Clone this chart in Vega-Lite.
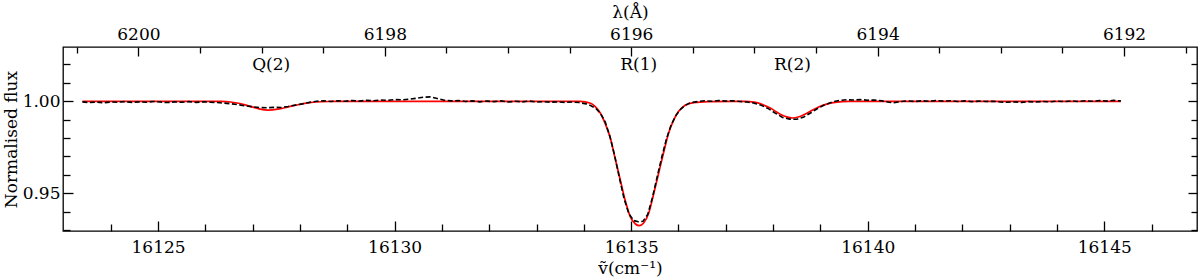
{
  "$schema": "https://vega.github.io/schema/vega-lite/v6.json",
  "width": 1134,
  "height": 184,
  "autosize": {"type": "none"},
  "padding": {"left": 63, "top": 47, "right": 3, "bottom": 49},
  "background": "white",
  "config": {
    "view": {"stroke": "black", "strokeWidth": 1.3},
    "axis": {
      "domain": false, "grid": false,
      "labelFont": "DejaVu Serif",
      "titleFont": "DejaVu Serif",
      "labelFontSize": 17, "titleFontSize": 17,
      "titleFontWeight": "normal",
      "labelColor": "black", "titleColor": "black",
      "tickColor": "black", "tickWidth": 1.3,
      "labelOverlap": false, "labelFlush": false
    }
  },
  "datasets": {
    "model": [
      {"nu": 16123.40, "f": 1.0000}, {"nu": 16125.90, "f": 1.0000},
      {"nu": 16126.33, "f": 0.9999}, {"nu": 16126.53, "f": 0.9996},
      {"nu": 16126.73, "f": 0.9988}, {"nu": 16126.93, "f": 0.9974},
      {"nu": 16127.13, "f": 0.9959}, {"nu": 16127.33, "f": 0.9952},
      {"nu": 16127.53, "f": 0.9957}, {"nu": 16127.73, "f": 0.9968},
      {"nu": 16127.93, "f": 0.9980}, {"nu": 16128.13, "f": 0.9990},
      {"nu": 16128.33, "f": 0.9996}, {"nu": 16128.63, "f": 0.9999},
      {"nu": 16129.00, "f": 1.0000}, {"nu": 16133.50, "f": 1.0000},
      {"nu": 16133.92, "f": 0.9999}, {"nu": 16134.14, "f": 0.9989},
      {"nu": 16134.24, "f": 0.9971}, {"nu": 16134.35, "f": 0.9935},
      {"nu": 16134.45, "f": 0.9880}, {"nu": 16134.56, "f": 0.9799},
      {"nu": 16134.66, "f": 0.9690}, {"nu": 16134.77, "f": 0.9572},
      {"nu": 16134.88, "f": 0.9455}, {"nu": 16134.98, "f": 0.9373},
      {"nu": 16135.09, "f": 0.9333}, {"nu": 16135.17, "f": 0.9324},
      {"nu": 16135.26, "f": 0.9337}, {"nu": 16135.37, "f": 0.9391},
      {"nu": 16135.47, "f": 0.9491}, {"nu": 16135.58, "f": 0.9609},
      {"nu": 16135.69, "f": 0.9726}, {"nu": 16135.79, "f": 0.9826},
      {"nu": 16135.90, "f": 0.9899}, {"nu": 16136.00, "f": 0.9944},
      {"nu": 16136.14, "f": 0.9978}, {"nu": 16136.32, "f": 0.9993},
      {"nu": 16136.67, "f": 0.9998}, {"nu": 16137.17, "f": 1.0000},
      {"nu": 16137.40, "f": 1.0000}, {"nu": 16137.60, "f": 0.9995},
      {"nu": 16137.75, "f": 0.9985}, {"nu": 16137.95, "f": 0.9962},
      {"nu": 16138.15, "f": 0.9930}, {"nu": 16138.30, "f": 0.9914},
      {"nu": 16138.40, "f": 0.9909}, {"nu": 16138.55, "f": 0.9916},
      {"nu": 16138.75, "f": 0.9940}, {"nu": 16138.95, "f": 0.9968},
      {"nu": 16139.15, "f": 0.9986}, {"nu": 16139.35, "f": 0.9995},
      {"nu": 16139.60, "f": 0.9999}, {"nu": 16140.00, "f": 1.0000},
      {"nu": 16145.35, "f": 1.0000}
    ],
    "obs": [
      {"nu": 16123.40, "f": 0.9997}, {"nu": 16123.55, "f": 0.9993}, {"nu": 16123.70, "f": 0.9996},
      {"nu": 16123.85, "f": 0.9992}, {"nu": 16124.00, "f": 0.9996}, {"nu": 16124.15, "f": 0.9995},
      {"nu": 16124.30, "f": 0.9998}, {"nu": 16124.45, "f": 0.9994}, {"nu": 16124.60, "f": 0.9997},
      {"nu": 16124.75, "f": 0.9995}, {"nu": 16124.90, "f": 0.9999}, {"nu": 16125.05, "f": 0.9996},
      {"nu": 16125.20, "f": 0.9993}, {"nu": 16125.35, "f": 0.9997}, {"nu": 16125.50, "f": 0.9995},
      {"nu": 16125.65, "f": 0.9998}, {"nu": 16125.80, "f": 0.9994}, {"nu": 16125.95, "f": 0.9997},
      {"nu": 16126.10, "f": 0.9995}, {"nu": 16126.25, "f": 0.9993}, {"nu": 16126.40, "f": 0.9990},
      {"nu": 16126.55, "f": 0.9986}, {"nu": 16126.70, "f": 0.9981}, {"nu": 16126.85, "f": 0.9975},
      {"nu": 16127.00, "f": 0.9970}, {"nu": 16127.15, "f": 0.9966}, {"nu": 16127.30, "f": 0.9965},
      {"nu": 16127.45, "f": 0.9967}, {"nu": 16127.60, "f": 0.9966}, {"nu": 16127.75, "f": 0.9972},
      {"nu": 16127.90, "f": 0.9979}, {"nu": 16128.05, "f": 0.9986}, {"nu": 16128.20, "f": 0.9994},
      {"nu": 16128.35, "f": 1.0000}, {"nu": 16128.50, "f": 1.0003}, {"nu": 16128.65, "f": 0.9999},
      {"nu": 16128.80, "f": 1.0002}, {"nu": 16128.95, "f": 1.0000}, {"nu": 16129.10, "f": 1.0004},
      {"nu": 16129.25, "f": 1.0001}, {"nu": 16129.40, "f": 1.0005}, {"nu": 16129.55, "f": 1.0003},
      {"nu": 16129.70, "f": 1.0007}, {"nu": 16129.85, "f": 1.0005}, {"nu": 16130.00, "f": 1.0009},
      {"nu": 16130.15, "f": 1.0008}, {"nu": 16130.30, "f": 1.0011}, {"nu": 16130.45, "f": 1.0016},
      {"nu": 16130.60, "f": 1.0022}, {"nu": 16130.75, "f": 1.0024}, {"nu": 16130.90, "f": 1.0015},
      {"nu": 16131.05, "f": 1.0006}, {"nu": 16131.20, "f": 1.0002}, {"nu": 16131.35, "f": 1.0004},
      {"nu": 16131.50, "f": 0.9999}, {"nu": 16131.65, "f": 1.0002}, {"nu": 16131.80, "f": 0.9997},
      {"nu": 16131.95, "f": 1.0001}, {"nu": 16132.10, "f": 0.9998}, {"nu": 16132.25, "f": 1.0002},
      {"nu": 16132.40, "f": 0.9996}, {"nu": 16132.55, "f": 1.0000}, {"nu": 16132.70, "f": 0.9997},
      {"nu": 16132.85, "f": 1.0001}, {"nu": 16133.00, "f": 0.9996}, {"nu": 16133.15, "f": 0.9998},
      {"nu": 16133.30, "f": 0.9995}, {"nu": 16133.45, "f": 0.9997}, {"nu": 16133.60, "f": 0.9994},
      {"nu": 16133.75, "f": 0.9996}, {"nu": 16133.90, "f": 0.9993}, {"nu": 16134.05, "f": 0.9986},
      {"nu": 16134.15, "f": 0.9976}, {"nu": 16134.25, "f": 0.9962}, {"nu": 16134.35, "f": 0.9935},
      {"nu": 16134.45, "f": 0.9888}, {"nu": 16134.55, "f": 0.9810}, {"nu": 16134.65, "f": 0.9705},
      {"nu": 16134.75, "f": 0.9585}, {"nu": 16134.85, "f": 0.9470}, {"nu": 16134.95, "f": 0.9390},
      {"nu": 16135.05, "f": 0.9352}, {"nu": 16135.15, "f": 0.9345}, {"nu": 16135.25, "f": 0.9348},
      {"nu": 16135.35, "f": 0.9385}, {"nu": 16135.45, "f": 0.9478}, {"nu": 16135.55, "f": 0.9590},
      {"nu": 16135.65, "f": 0.9700}, {"nu": 16135.75, "f": 0.9800}, {"nu": 16135.85, "f": 0.9875},
      {"nu": 16135.95, "f": 0.9925}, {"nu": 16136.05, "f": 0.9958}, {"nu": 16136.15, "f": 0.9979},
      {"nu": 16136.25, "f": 0.9992}, {"nu": 16136.40, "f": 0.9998}, {"nu": 16136.55, "f": 1.0003},
      {"nu": 16136.70, "f": 1.0000}, {"nu": 16136.85, "f": 1.0004}, {"nu": 16137.00, "f": 1.0001},
      {"nu": 16137.15, "f": 1.0003}, {"nu": 16137.30, "f": 0.9999}, {"nu": 16137.45, "f": 0.9996},
      {"nu": 16137.60, "f": 0.9990}, {"nu": 16137.75, "f": 0.9978}, {"nu": 16137.90, "f": 0.9960},
      {"nu": 16138.05, "f": 0.9935}, {"nu": 16138.20, "f": 0.9912}, {"nu": 16138.35, "f": 0.9903},
      {"nu": 16138.50, "f": 0.9902}, {"nu": 16138.65, "f": 0.9915}, {"nu": 16138.80, "f": 0.9938},
      {"nu": 16138.95, "f": 0.9962}, {"nu": 16139.10, "f": 0.9982}, {"nu": 16139.25, "f": 0.9996},
      {"nu": 16139.40, "f": 1.0005}, {"nu": 16139.55, "f": 1.0008}, {"nu": 16139.70, "f": 1.0007},
      {"nu": 16139.85, "f": 1.0009}, {"nu": 16140.00, "f": 1.0006}, {"nu": 16140.15, "f": 1.0007},
      {"nu": 16140.30, "f": 1.0002}, {"nu": 16140.45, "f": 0.9995}, {"nu": 16140.55, "f": 0.9992},
      {"nu": 16140.70, "f": 0.9999}, {"nu": 16140.85, "f": 1.0002}, {"nu": 16141.00, "f": 0.9999},
      {"nu": 16141.15, "f": 1.0003}, {"nu": 16141.30, "f": 1.0000}, {"nu": 16141.45, "f": 1.0004},
      {"nu": 16141.60, "f": 1.0001}, {"nu": 16141.75, "f": 1.0003}, {"nu": 16141.90, "f": 0.9999},
      {"nu": 16142.05, "f": 1.0002}, {"nu": 16142.20, "f": 0.9998}, {"nu": 16142.35, "f": 1.0001},
      {"nu": 16142.50, "f": 0.9999}, {"nu": 16142.65, "f": 1.0000}, {"nu": 16142.80, "f": 0.9996},
      {"nu": 16142.95, "f": 0.9995}, {"nu": 16143.10, "f": 0.9997}, {"nu": 16143.25, "f": 0.9994},
      {"nu": 16143.40, "f": 0.9998}, {"nu": 16143.55, "f": 0.9996}, {"nu": 16143.70, "f": 0.9999},
      {"nu": 16143.85, "f": 0.9997}, {"nu": 16144.00, "f": 1.0001}, {"nu": 16144.15, "f": 0.9998},
      {"nu": 16144.30, "f": 1.0002}, {"nu": 16144.45, "f": 0.9999}, {"nu": 16144.60, "f": 1.0003},
      {"nu": 16144.75, "f": 1.0000}, {"nu": 16144.90, "f": 1.0004}, {"nu": 16145.05, "f": 1.0001},
      {"nu": 16145.20, "f": 1.0005}, {"nu": 16145.35, "f": 1.0002}
    ],
    "labels": [
      {"nu": 16127.39, "f": 1.0170, "label": "Q(2)"},
      {"nu": 16135.16, "f": 1.0170, "label": "R(1)"},
      {"nu": 16138.41, "f": 1.0170, "label": "R(2)"}
    ],
    "lambda": [
      {"lam": 6192, "f": 1.0}, {"lam": 6194, "f": 1.0}, {"lam": 6196, "f": 1.0},
      {"lam": 6198, "f": 1.0}, {"lam": 6200, "f": 1.0}
    ]
  },
  "layer": [
    {
      "data": {"name": "model"},
      "mark": {"type": "line", "color": "#ff0000", "strokeWidth": 1.7, "interpolate": "monotone"},
      "encoding": {
        "x": {"field": "nu", "type": "quantitative",
          "scale": {"domain": [16122.99, 16146.96], "nice": false, "zero": false},
          "axis": {"orient": "bottom", "values": [16125, 16130, 16135, 16140, 16145], "format": "d",
            "tickSize": -10, "labelPadding": 18, "title": "ṽ(cm⁻¹)",
            "titleX": 567, "titleY": 42.5, "titleBaseline": "alphabetic", "titleAlign": "center"}},
        "y": {"field": "f", "type": "quantitative",
          "scale": {"domain": [0.9295, 1.0295], "nice": false, "zero": false},
          "axis": {"orient": "left", "values": [0.95, 1.0], "format": ".2f",
            "tickSize": -10, "labelPadding": 13, "title": "Normalised flux",
            "titleX": -47, "titleY": 92, "titleBaseline": "alphabetic", "titleAlign": "center", "titleAngle": -90}}
      }
    },
    {
      "data": {"name": "obs"},
      "mark": {"type": "line", "color": "black", "strokeWidth": 1.6, "strokeDash": [5, 2.5]},
      "encoding": {
        "x": {"field": "nu", "type": "quantitative",
          "scale": {"domain": [16122.99, 16146.96], "nice": false, "zero": false},
          "axis": {"orient": "bottom", "values": [16124, 16126, 16127, 16128, 16129, 16131, 16132, 16133, 16134, 16136, 16137, 16138, 16139, 16141, 16142, 16143, 16144, 16146],
            "labels": false, "tickSize": -7, "title": null}},
        "y": {"field": "f", "type": "quantitative",
          "scale": {"domain": [0.9295, 1.0295], "nice": false, "zero": false},
          "axis": {"orient": "left", "values": [0.93, 0.94, 0.96, 0.97, 0.98, 0.99, 1.01, 1.02],
            "labels": false, "tickSize": -7, "title": null}}
      }
    },
    {
      "data": {"name": "labels"},
      "mark": {"type": "text", "font": "DejaVu Serif", "fontSize": 17, "color": "black", "align": "center", "baseline": "alphabetic"},
      "encoding": {
        "x": {"field": "nu", "type": "quantitative",
          "scale": {"domain": [16122.99, 16146.96], "nice": false, "zero": false}, "axis": null},
        "y": {"field": "f", "type": "quantitative",
          "scale": {"domain": [0.9295, 1.0295], "nice": false, "zero": false},
          "axis": {"orient": "right", "values": [0.95, 1.0], "labels": false, "tickSize": -9, "title": null}},
        "text": {"field": "label"}
      }
    },
    {
      "data": {"name": "lambda"},
      "mark": {"type": "point", "opacity": 0},
      "encoding": {
        "x": {"field": "lam", "type": "quantitative",
          "scale": {"domain": [6191.4075, 6200.6123], "reverse": true, "nice": false, "zero": false},
          "axis": {"orient": "top", "values": [6192, 6194, 6196, 6198, 6200], "format": "d",
            "tickSize": -9, "labelPadding": 13, "title": "λ(Å)",
            "titleX": 567, "titleY": -30, "titleBaseline": "alphabetic", "titleAlign": "center"}},
        "y": {"field": "f", "type": "quantitative",
          "scale": {"domain": [0.9295, 1.0295], "nice": false, "zero": false},
          "axis": {"orient": "right", "values": [0.93, 0.94, 0.96, 0.97, 0.98, 0.99, 1.01, 1.02],
            "labels": false, "tickSize": -6, "title": null}}
      }
    },
    {
      "data": {"name": "lambda"},
      "mark": {"type": "point", "opacity": 0},
      "encoding": {
        "x": {"field": "lam", "type": "quantitative",
          "scale": {"domain": [6191.4075, 6200.6123], "reverse": true, "nice": false, "zero": false},
          "axis": {"orient": "top", "values": [6191.5, 6192.5, 6193, 6193.5, 6194.5, 6195, 6195.5, 6196.5, 6197, 6197.5, 6198.5, 6199, 6199.5, 6200.5],
            "labels": false, "tickSize": -6, "title": null}},
        "y": {"field": "f", "type": "quantitative",
          "scale": {"domain": [0.9295, 1.0295], "nice": false, "zero": false}, "axis": null}
      }
    }
  ],
  "resolve": {
    "scale": {"x": "independent", "y": "independent"},
    "axis": {"x": "independent", "y": "independent"}
  }
}
